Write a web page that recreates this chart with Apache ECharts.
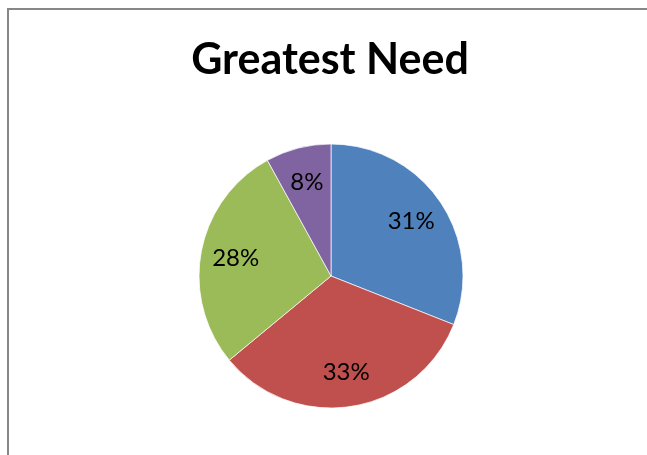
<!DOCTYPE html>
<html>
<head>
<meta charset="utf-8">
<script src="https://cdn.jsdelivr.net/npm/echarts@6/dist/echarts.min.js"></script>
<style>
html,body{margin:0;padding:0;background:#fff;}
#chart{width:647px;height:455px;}
</style>
</head>
<body>
<div id="chart"></div>
<script>
const titleText = "Greatest Need";
const categories = ["Category 1", "Category 2", "Category 3", "Category 4"];
const values = [31, 33, 28, 8];
const colors = ["#4F81BD", "#C0504D", "#9BBB59", "#8064A2"];

const data = categories.map((c, i) => ({ name: c, value: values[i], itemStyle: { color: colors[i] } }));
const labelData = categories.map((c, i) => ({ name: c, value: values[i] }));

const chart = echarts.init(document.getElementById('chart'), null, { renderer: 'canvas' });
chart.setOption({
  animation: false,
  backgroundColor: '#fff',
  title: {
    text: titleText,
    left: 325,
    textAlign: 'center',
    top: 34,
    textStyle: { fontFamily: 'Lato', fontWeight: 'bold', fontSize: 43, color: '#000' }
  },
  graphic: [{
    type: 'polyline',
    shape: { points: [[8, 460], [8, 9], [660, 9]] },
    style: { stroke: '#878787', lineWidth: 2, fill: null },
    silent: true
  }],
  series: [
    {
      type: 'pie',
      center: [331, 276],
      radius: [0, 132],
      startAngle: 90,
      clockwise: true,
      silent: true,
      data: data,
      label: { show: false },
      labelLine: { show: false },
      itemStyle: { borderColor: 'rgba(255,255,255,0.7)', borderWidth: 1 }
    },
    {
      type: 'pie',
      center: [331, 276],
      radius: [56, 132],
      startAngle: 90,
      clockwise: true,
      silent: true,
      data: labelData,
      itemStyle: { color: 'rgba(0,0,0,0)' },
      label: {
        show: true,
        position: 'inside',
        formatter: (p) => Math.round(p.percent) + '%',
        fontFamily: 'Lato',
        fontSize: 24,
        padding: [5, 0, 0, 0],
        color: '#000'
      },
      labelLine: { show: false }
    }
  ]
});
</script>
</body>
</html>
